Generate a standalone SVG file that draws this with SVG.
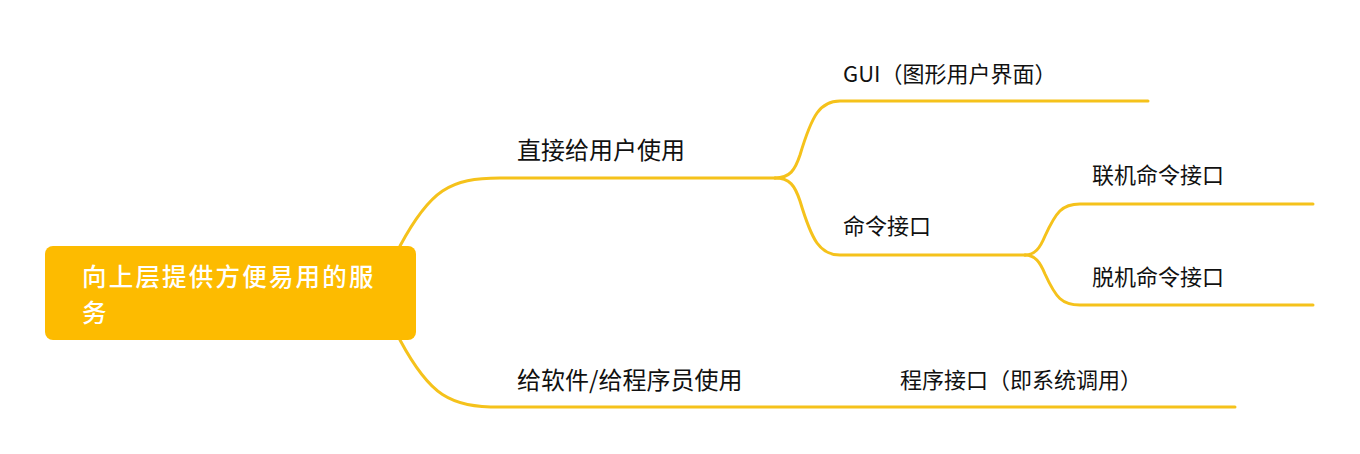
<svg xmlns="http://www.w3.org/2000/svg" width="1360" height="454" viewBox="0 0 1360 454">
<style>
.ln{fill:none;stroke:#F5C21B;stroke-width:3;stroke-linecap:round}
.t{font-family:"Noto Sans CJK SC","Noto Sans",sans-serif;fill:#111111}
.t1{font-size:24px}
.t2{font-size:22px}
.rt{font-family:"Noto Sans CJK SC","Noto Sans",sans-serif;font-size:24.5px;letter-spacing:2.2px;font-weight:500;fill:#ffffff}
</style>
<rect width="1360" height="454" fill="#ffffff"/>
<g id="connectors">
<path class="ln" d="M400,246 C430,190 450,178 500,178 L775,178"/>
<path class="ln" d="M400,340 C430,396 450,407 500,407 L1235,407"/>
<path class="ln" d="M775,178 C790,178 795,170 800,155 C812,115 820,101 840,101 L1148,101"/>
<path class="ln" d="M775,178 C790,178 795,186 800,201 C812,241 820,255 840,255 L1025,255"/>
<path class="ln" d="M1025,255 C1035,255 1040,248 1045,236 C1056,212 1062,204 1080,204 L1313,204"/>
<path class="ln" d="M1025,255 C1035,255 1040,262 1045,274 C1056,298 1062,305 1080,305 L1313,305"/>
</g>
<g id="root">
<rect x="45" y="246" width="371" height="94" rx="8" fill="#FDBB00"/>
<text class="rt" x="82" y="285.5">向上层提供方便易用的服</text>
<text class="rt" x="82" y="321.5">务</text>
</g>
<g id="n-direct"><text class="t t1" x="517" y="159">直接给用户使用</text></g>
<g id="n-program-user"><text class="t t1" x="517" y="389">给软件/给程序员使用</text></g>
<g id="n-gui"><text class="t t2" x="843" y="82">GUI（图形用户界面）</text></g>
<g id="n-cmd"><text class="t t2" x="843" y="234">命令接口</text></g>
<g id="n-online"><text class="t t2" x="1092" y="183">联机命令接口</text></g>
<g id="n-offline"><text class="t t2" x="1092" y="285">脱机命令接口</text></g>
<g id="n-syscall"><text class="t t2" x="900" y="388">程序接口（即系统调用）</text></g>
</svg>
